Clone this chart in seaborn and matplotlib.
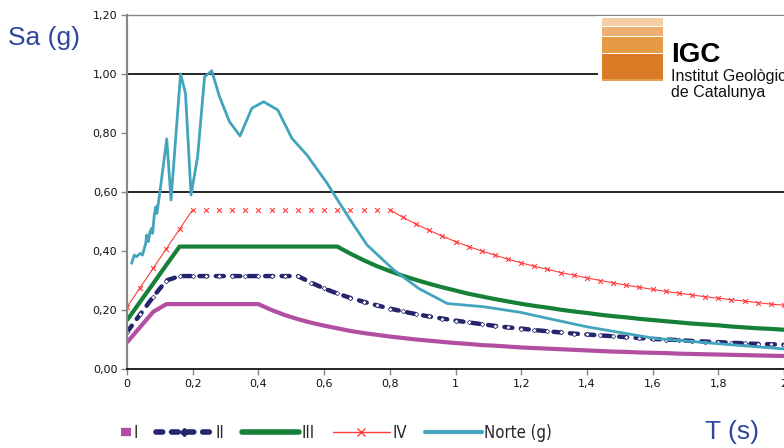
import pandas as pd
import matplotlib.pyplot as plt
import seaborn as sns
from matplotlib.ticker import FuncFormatter, MultipleLocator
from matplotlib.lines import Line2D
from matplotlib.patches import Rectangle


#------1.Data------
periods = [0.00, 0.04, 0.08, 0.12, 0.16, 0.20, 0.24, 0.28, 0.32, 0.36,
           0.40, 0.44, 0.48, 0.52, 0.56, 0.60, 0.64, 0.68, 0.72, 0.76,
           0.80, 0.84, 0.88, 0.92, 0.96, 1.00, 1.04, 1.08, 1.12, 1.16,
           1.20, 1.24, 1.28, 1.32, 1.36, 1.40, 1.44, 1.48, 1.52, 1.56,
           1.60, 1.64, 1.68, 1.72, 1.76, 1.80, 1.84, 1.88, 1.92, 1.96, 2.00]

sa_I = [0.090, 0.142, 0.194, 0.220, 0.220, 0.220, 0.220, 0.220, 0.220, 0.220,
        0.220, 0.200, 0.183, 0.169, 0.157, 0.147, 0.138, 0.129, 0.122, 0.116,
        0.110, 0.105, 0.100, 0.096, 0.092, 0.088, 0.085, 0.081, 0.079, 0.076,
        0.073, 0.071, 0.069, 0.067, 0.065, 0.063, 0.061, 0.059, 0.058, 0.056,
        0.055, 0.054, 0.052, 0.051, 0.050, 0.049, 0.048, 0.047, 0.046, 0.045, 0.044]

sa_II = [0.125, 0.185, 0.245, 0.300, 0.315, 0.315, 0.315, 0.315, 0.315, 0.315,
         0.315, 0.315, 0.315, 0.315, 0.293, 0.273, 0.256, 0.241, 0.228, 0.216,
         0.205, 0.195, 0.186, 0.178, 0.171, 0.164, 0.158, 0.152, 0.146, 0.141,
         0.137, 0.132, 0.128, 0.124, 0.120, 0.117, 0.114, 0.111, 0.108, 0.105,
         0.102, 0.100, 0.098, 0.095, 0.093, 0.091, 0.089, 0.087, 0.085, 0.084, 0.082]

sa_III = [0.165, 0.228, 0.290, 0.353, 0.415, 0.415, 0.415, 0.415, 0.415, 0.415,
          0.415, 0.415, 0.415, 0.415, 0.415, 0.415, 0.415, 0.391, 0.369, 0.349,
          0.332, 0.316, 0.302, 0.289, 0.277, 0.266, 0.255, 0.246, 0.237, 0.229,
          0.221, 0.214, 0.208, 0.201, 0.195, 0.190, 0.184, 0.179, 0.175, 0.170,
          0.166, 0.162, 0.158, 0.154, 0.151, 0.148, 0.144, 0.141, 0.138, 0.136, 0.133]

sa_IV = [0.210, 0.276, 0.342, 0.408, 0.474, 0.540, 0.540, 0.540, 0.540, 0.540,
         0.540, 0.540, 0.540, 0.540, 0.540, 0.540, 0.540, 0.540, 0.540, 0.540,
         0.540, 0.514, 0.491, 0.470, 0.450, 0.432, 0.415, 0.400, 0.386, 0.372,
         0.360, 0.348, 0.338, 0.327, 0.318, 0.309, 0.300, 0.292, 0.284, 0.277,
         0.270, 0.263, 0.257, 0.251, 0.245, 0.240, 0.235, 0.230, 0.225, 0.220, 0.216]

norte_T = [0.014, 0.022, 0.029, 0.040, 0.047, 0.057, 0.060, 0.065, 0.070, 0.075,
           0.078, 0.083, 0.088, 0.091, 0.099, 0.121, 0.134, 0.163, 0.178, 0.195,
           0.215, 0.236, 0.258, 0.281, 0.312, 0.344, 0.380, 0.416, 0.459, 0.502,
           0.548, 0.609, 0.649, 0.680, 0.731, 0.812, 0.888, 0.975, 1.086, 1.198,
           1.259, 1.400, 1.605, 1.808, 2.000]
norte_sa = [0.358, 0.386, 0.381, 0.392, 0.386, 0.426, 0.454, 0.432, 0.465, 0.477,
            0.460, 0.522, 0.550, 0.527, 0.590, 0.780, 0.573, 1.000, 0.935, 0.590,
            0.720, 0.990, 1.011, 0.925, 0.838, 0.790, 0.884, 0.906, 0.878, 0.782,
            0.725, 0.630, 0.559, 0.505, 0.420, 0.336, 0.273, 0.222, 0.211, 0.192,
            0.177, 0.143, 0.104, 0.085, 0.068]

series_names = ["I", "II", "III", "IV", "Norte (g)"]
grid_levels = [0.6, 1.0]

df = pd.DataFrame({"T": periods, "I": sa_I, "II": sa_II, "III": sa_III, "IV": sa_IV})
norte = pd.DataFrame({"T": norte_T, "Sa": norte_sa})

#------2.Style------
c_I = "#b24fa3"
c_II = "#25256e"
c_III = "#178038"
c_IV = "#ff3b3b"
c_N = "#42a5bd"
blue = "#2e479c"

sns.set_style("white")
plt.rcParams['font.family'] = ['DejaVu Sans']

fig = plt.figure(figsize=(7.84, 4.48), dpi=100)
ax = fig.add_axes([127/784, 1-369/448, (784-127)/784, (369-15)/448])

for lvl in grid_levels:
    ax.axhline(lvl, color="black", lw=1.2, zorder=0.5)

#------3.Spectra------
sns.lineplot(data=df, x="T", y="I", ax=ax, color=c_I, linewidth=3, solid_capstyle="butt")
sns.lineplot(data=df, x="T", y="II", ax=ax, color=c_II, linewidth=3.2,
             linestyle=(0, (1.8, 1.9)), dash_capstyle="round",
             marker="D", markersize=2.4, markerfacecolor="white",
             markeredgecolor=c_II, markeredgewidth=0.5)
sns.lineplot(data=df, x="T", y="III", ax=ax, color=c_III, linewidth=3, solid_capstyle="butt")

# IV: line only on the rising and decaying parts, crosses everywhere
rise = df[df["T"] <= 0.2]
decay = df[df["T"] >= 0.8]
sns.lineplot(data=rise, x="T", y="IV", ax=ax, color=c_IV, linewidth=0.8)
sns.lineplot(data=decay, x="T", y="IV", ax=ax, color=c_IV, linewidth=0.8)
sns.scatterplot(data=df, x="T", y="IV", ax=ax, color=c_IV, marker="x", s=12, linewidth=0.8)

sns.lineplot(data=norte, x="T", y="Sa", ax=ax, color=c_N, linewidth=2, sort=False)

#------4.Axes------
ax.set_xlim(0, 2)
ax.set_ylim(0, 1.2)
ax.set_xlabel("")
ax.set_ylabel("")
ax.xaxis.set_major_locator(MultipleLocator(0.2))
ax.yaxis.set_major_locator(MultipleLocator(0.2))
ax.xaxis.set_major_formatter(FuncFormatter(lambda v, p: ("%g" % round(v, 2)).replace(".", ",")))
ax.yaxis.set_major_formatter(FuncFormatter(lambda v, p: ("%.2f" % v).replace(".", ",")))
ax.tick_params(axis="both", direction="out", bottom=True, left=True, length=4, width=1,
               color="#888888", labelsize=8, labelcolor="#111111", pad=3)
ax.spines["left"].set_color("#888888")
ax.spines["left"].set_linewidth(1.6)
ax.spines["bottom"].set_color("black")
ax.spines["bottom"].set_linewidth(1.2)
ax.spines["top"].set_color("#888888")
ax.spines["top"].set_linewidth(1)
ax.spines["right"].set_visible(False)

fig.text(8/784, 1-38/448, "Sa (g)", fontsize=19, color=blue, va="center", ha="left",
         family="Liberation Sans")
fig.text(705/784, 1-432/448, "T (s)", fontsize=19, color=blue, va="center", ha="left",
         family="Liberation Sans")

#------5.Legend------
leg_font = dict(family="DejaVu Sans", stretch="condensed", size=12)
h_I = Line2D([], [], color=c_I, lw=6, solid_capstyle="butt")
h_II = Line2D([], [], color=c_II, lw=4, linestyle=(0, (1.2, 1.6)), dash_capstyle="round",
              marker="D", markersize=4, markerfacecolor=c_II, markeredgecolor=c_II)
h_III = Line2D([], [], color=c_III, lw=4, solid_capstyle="round")
h_IV = Line2D([], [], color=c_IV, lw=1, marker="x", markersize=6, markeredgewidth=1)
h_N = Line2D([], [], color=c_N, lw=3, solid_capstyle="round")

leg1 = fig.legend(handles=[h_I], labels=[series_names[0]], loc="center left",
                  bbox_to_anchor=(121/784, 1-433/448), frameon=False, handlelength=0.6,
                  handletextpad=0.15, borderpad=0, borderaxespad=0, prop=leg_font)
leg2 = fig.legend(handles=[h_II, h_III, h_IV, h_N], labels=series_names[1:], ncol=4,
                  loc="center left", bbox_to_anchor=(156/784, 1-433/448), frameon=False,
                  handlelength=3.4, handletextpad=0.15, columnspacing=1.1,
                  borderpad=0, borderaxespad=0, prop=leg_font)

#------6.Logo------
logo = fig.add_axes([598/784, 1-100/448, (784-598)/784, (100-16)/448])
logo.set_xlim(598, 784)
logo.set_ylim(100, 16)
logo.axis("off")
logo.add_patch(Rectangle((598, 16), 186, 84, color="white"))
stripes = [(18, 8, "#f3cfa3"), (27, 9, "#edb070"), (37.5, 15.5, "#e59a45"),
           (54.5, 25, "#dc7b26"), (79.5, 1.5, "#e8a050")]
for y0, h, col in stripes:
    logo.add_patch(Rectangle((602, y0), 61, h, color=col, lw=0))
logo.text(671, 55, "IGC", fontsize=20, fontweight="bold", family="Liberation Sans",
          va="center", ha="left", color="black")
logo.text(671, 76, "Institut Geològic", fontsize=11.5, family="Liberation Sans",
          va="center", ha="left", color="#111111")
logo.text(671, 92, "de Catalunya", fontsize=11.5, family="Liberation Sans",
          va="center", ha="left", color="#111111")

plt.savefig("out.png", dpi=100)
